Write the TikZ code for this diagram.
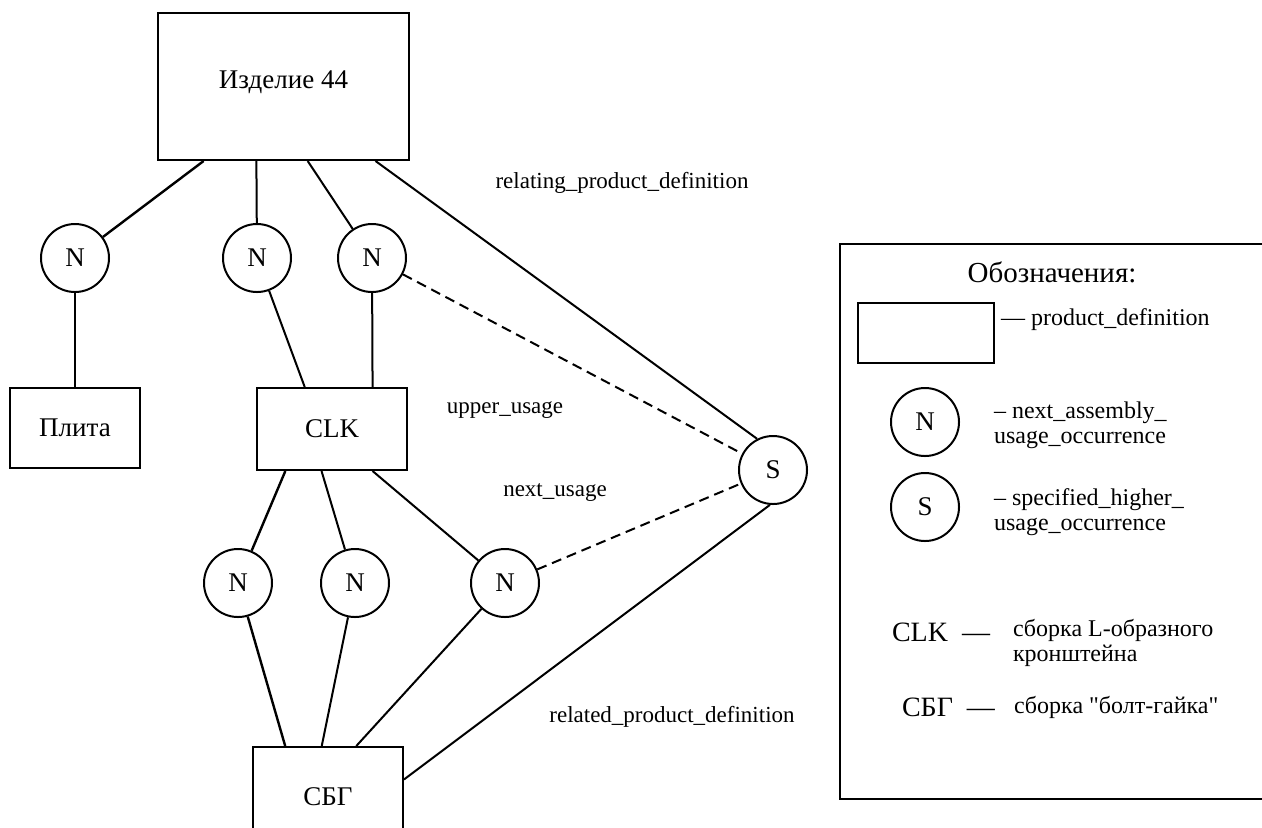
\documentclass[tikz,border=0pt]{standalone}
\usepackage{fontspec}
\setmainfont{Liberation Serif}
\usetikzlibrary{shapes.geometric}

\begin{document}
\begin{tikzpicture}
[x=0.5pt, y=-0.5pt, line width=1pt,
 every node/.style={inner sep=0pt, font=\fontsize{13.5}{15}\selectfont},
 pdbox/.style={rectangle, draw=black, line width=1pt},
 occ/.style={circle, minimum size=34pt, draw=black, line width=1pt},
 dash line/.style={dash pattern=on 5pt off 3pt},
 lbl/.style={font=\fontsize{11.5}{13}\selectfont},
 leg/.style={anchor=west, align=left, font=\fontsize{12}{12.5}\selectfont}]
\useasboundingbox (0,0) rectangle (1262,827);
\node (izd) [pdbox, minimum width=125.5pt, minimum height=73.5pt] at (283.5, 86.5) {\raisebox{6.5pt}{Изделие 44}};
\node (n1) [occ] at (75, 258) {N};
\node (n2) [occ] at (257, 258) {N};
\node (n3) [occ] at (372, 258) {N};
\node (plita) [pdbox, minimum width=65pt, minimum height=40pt] at (75, 428) {Плита};
\node (clk) [pdbox, minimum width=75pt, minimum height=41pt] at (332, 429) {CLK};
\node (s) [occ] at (773, 470) {S};
\node (m1) [occ] at (238, 583) {N};
\node (m2) [occ] at (355, 583) {N};
\node (m3) [occ] at (505, 583) {N};
\node (sbg) [pdbox, minimum width=75pt, minimum height=50pt] at (328, 797) {СБГ};
\draw [line width=1.2pt] (izd.223) to (n1);
\draw (izd.250) to (n2);
\draw (izd.288) to (n3);
\draw (izd.321) to (s.117);
\draw (n1) to (plita);
\draw (n2) to (clk.123);
\draw (n3) to (clk.46);
\draw [dash line] (n3) to (s);
\draw [line width=1.2pt] (clk.222) to (m1);
\draw (clk.256) to (m2);
\draw (clk.314) to (m3);
\draw [dash line] (m3) to (s);
\draw [line width=1.2pt] (m1) to (sbg.130);
\draw (m2) to (sbg.97);
\draw (m3) to (sbg.61);
\draw (s.265) to (sbg.13);
\node (rpd) [lbl] at (622, 183) {relating\_product\_definition};
\node (upu) [lbl] at (505, 410) {upper\_usage};
\node (nxu) [lbl] at (555, 492) {next\_usage};
\node (rdpd) [lbl] at (672, 717) {related\_product\_definition};
% legend
\draw (1275, 244) -- (840, 244) -- (840, 799) -- (1275, 799);
\node (legt) [font=\fontsize{14.5}{16}\selectfont] at (1052, 272) {Обозначения:};
\node (legbox) [pdbox, minimum width=68pt, minimum height=30pt] at (926, 333) {};
\node (legpd) [leg] at (1000, 320) {— product\_definition};
\node (legn) [occ] at (925, 422) {N};
\node (legnt) [leg] at (993, 425) {– next\_assembly\_\\usage\_occurrence};
\node (legs) [occ] at (925, 507) {S};
\node (legst) [leg] at (993, 512) {– specified\_higher\_\\usage\_occurrence};
\node (legclk) [leg, font=\fontsize{14}{15}\selectfont] at (891, 632) {CLK \ —};
\node (legclkt) [leg] at (1012, 643) {сборка L-образного\\кронштейна};
\node (legsbg) [leg, font=\fontsize{14}{15}\selectfont] at (901, 707) {СБГ \ —};
\node (legsbgt) [leg] at (1013, 707) {сборка \textquotedbl болт-гайка\textquotedbl};
\end{tikzpicture}
\end{document}
